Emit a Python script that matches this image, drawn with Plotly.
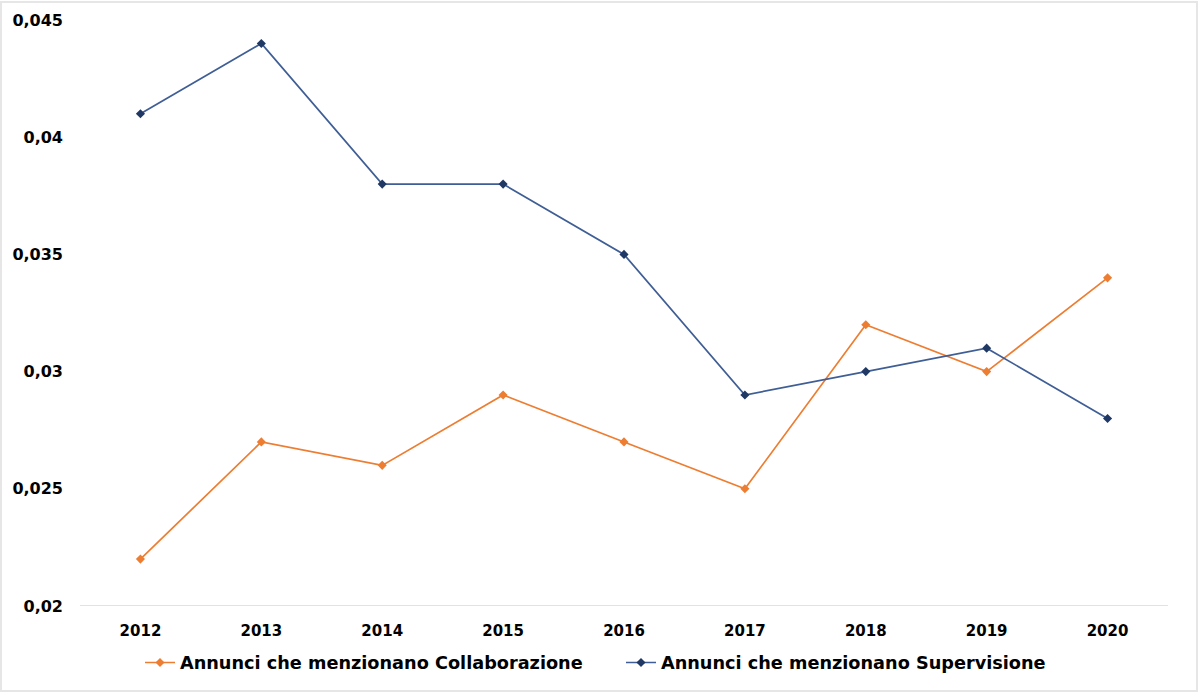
import plotly.graph_objects as go

years = ["2012", "2013", "2014", "2015", "2016", "2017", "2018", "2019", "2020"]
collaborazione = [0.022, 0.027, 0.026, 0.029, 0.027, 0.025, 0.032, 0.030, 0.034]
supervisione = [0.041, 0.044, 0.038, 0.038, 0.035, 0.029, 0.030, 0.031, 0.028]
y_ticks = [0.02, 0.025, 0.03, 0.035, 0.04, 0.045]

FONT = "DejaVu Sans"

fig = go.Figure()
fig.add_trace(go.Scatter(
    x=years, y=collaborazione, mode="lines+markers",
    name="Annunci che menzionano Collaborazione",
    line=dict(color="#ED7D31", width=1.7),
    marker=dict(symbol="diamond", size=7, color="#ED7D31"),
))
fig.add_trace(go.Scatter(
    x=years, y=supervisione, mode="lines+markers",
    name="Annunci che menzionano Supervisione",
    line=dict(color="#3F5E95", width=1.7),
    marker=dict(symbol="diamond", size=7, color="#1F3864"),
))

W, H = 1200, 692
ml, mr, mt, mb = 80, 32, 20, 86
pw, ph = W - ml - mr, H - mt - mb

fig.update_layout(
    width=W, height=H,
    margin=dict(l=ml, r=mr, t=mt, b=mb, autoexpand=False),
    paper_bgcolor="white", plot_bgcolor="white",
    separators=",.",
    font=dict(family=FONT, size=16, color="#000000", weight="bold"),
    showlegend=True,
    legend=dict(orientation="h", x=(140 - ml) / pw, xanchor="left",
                y=-(663 - (H - mb)) / ph, yanchor="middle",
                font=dict(family=FONT, size=17.7, color="#000000", weight="bold"),
                entrywidth=436, entrywidthmode="pixels", itemwidth=30,
                tracegroupgap=0),
    xaxis=dict(type="category", range=[-0.5, 8.5], showgrid=False,
               showline=False, ticks="", ticklabelstandoff=14,
               tickfont=dict(family=FONT, size=15, weight="bold")),
    yaxis=dict(range=[0.02, 0.045], tickvals=y_ticks, tickformat=".3~f",
               showgrid=False, zeroline=False, showline=False, ticks="",
               ticklabelstandoff=16,
               tickfont=dict(family=FONT, size=16, weight="bold")),
    shapes=[
        dict(type="line", xref="paper", yref="y", x0=0, x1=1, y0=0.02, y1=0.02,
             line=dict(color="#D9D9D9", width=1.5), layer="below"),
        dict(type="rect", xref="paper", yref="paper",
             x0=(1 - ml) / pw, x1=(W - 3 - ml) / pw,
             y0=-(mb - 1) / ph, y1=1 + (mt - 2) / ph,
             line=dict(color="#E6E6E6", width=2), layer="below"),
    ],
)

fig.write_html("out.html", config={"displayModeBar": False},
               post_script="document.body.style.margin='0';")
